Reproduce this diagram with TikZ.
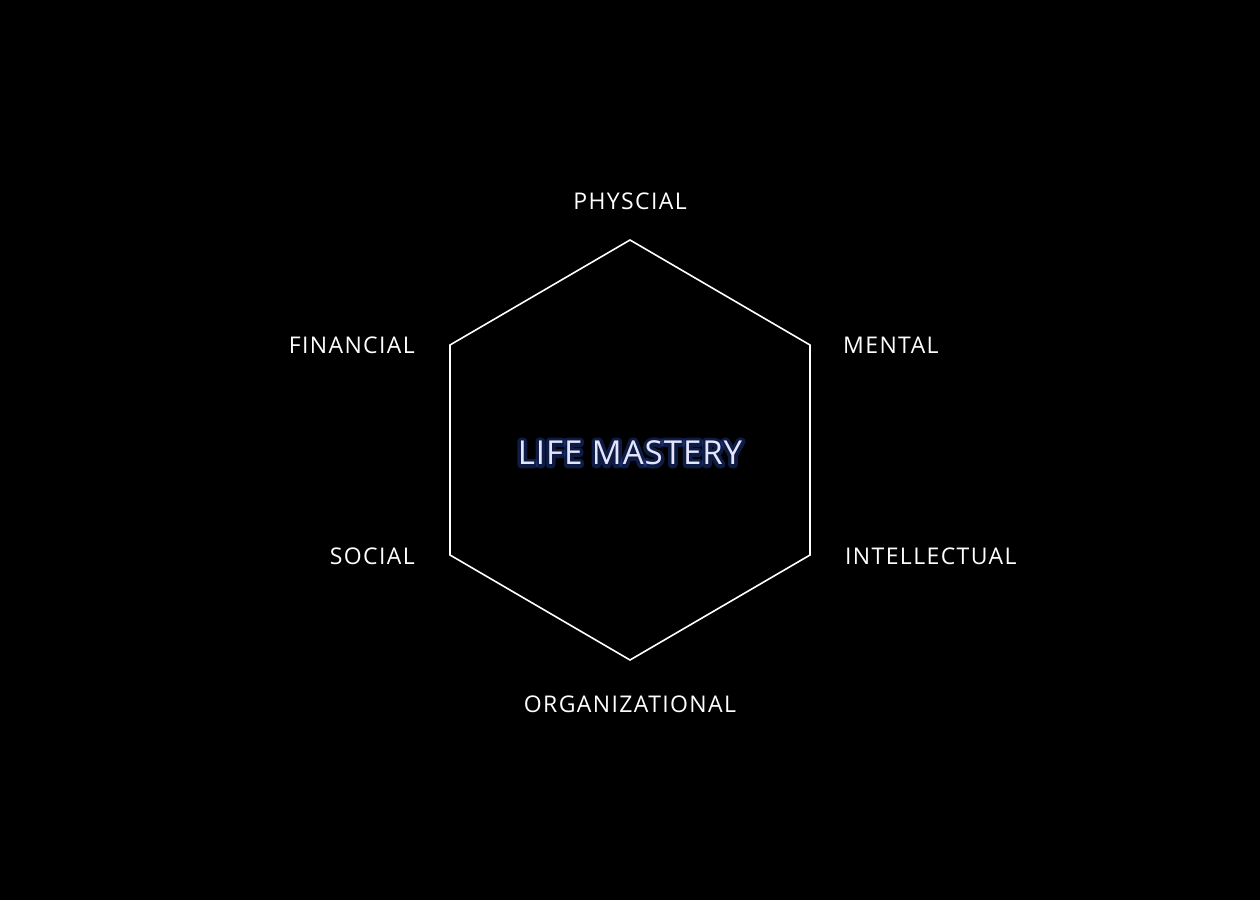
\documentclass[tikz,border=0pt]{standalone}
\usepackage{fontspec}
\setmainfont{Open Sans}
\newfontfamily\lblfont[LetterSpace=6]{Open Sans}
\newfontfamily\titlefont[LetterSpace=3]{Open Sans}
\newcommand{\glowon}{\special{pdf:literal direct 1 Tr 1 j 1 J 7 w 0.2 0.38 0.95 RG}}
\newcommand{\glowoff}{\special{pdf:literal direct 0 Tr}}
\begin{document}
\begin{tikzpicture}[x=1pt,y=-1pt,
  lbl/.style={text=white,font=\lblfont\fontsize{23}{26}\selectfont,inner sep=0pt},
  hexline/.style={draw=white,line width=1.6pt,line join=miter},
  titletxt/.style={font=\titlefont\fontsize{33}{38}\selectfont,inner sep=0pt}]
\fill[black] (0,0) rectangle (1260,900);
\useasboundingbox (0,0) rectangle (1260,900);
\coordinate (v1) at (630,240);
\coordinate (v2) at (810,345);
\coordinate (v3) at (810,555);
\coordinate (v4) at (630,660);
\coordinate (v5) at (450,555);
\coordinate (v6) at (450,345);
\draw[hexline] (v1) -- (v2) -- (v3) -- (v4) -- (v5) -- (v6) -- cycle;
\node[lbl] (phys) at (630,201) {PHYSCIAL};
\node[lbl,anchor=east] (fin) at (415,345) {FINANCIAL};
\node[lbl,anchor=west] (ment) at (843,345) {MENTAL};
\node[lbl,anchor=east] (soc) at (415,556) {SOCIAL};
\node[lbl,anchor=west] (intel) at (845,556) {INTELLECTUAL};
\node[lbl] (org) at (630,704) {ORGANIZATIONAL};
\node[titletxt,text=white,draw opacity=0.28] (glow) at (630,453) {\glowon LIFE MASTERY\glowoff};
\node[titletxt,text=white!90!blue] (life) at (630,453) {LIFE MASTERY};
\end{tikzpicture}
\end{document}
